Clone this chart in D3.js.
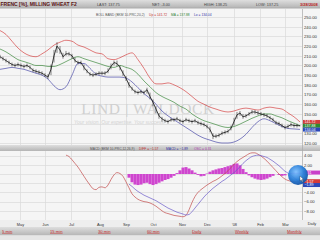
<!DOCTYPE html>
<html><head><meta charset="utf-8">
<script src="https://cdn.jsdelivr.net/npm/d3@7"></script>
<style>html,body{margin:0;padding:0;background:#fff;overflow:hidden}svg{display:block;font-family:"Liberation Sans",Arial,sans-serif}</style>
</head><body><svg id="c" width="320" height="240"></svg>
<script>
// ---- data (x index: one step per price bar) ----
const monthLabels = ["May","Jun","Jul","Aug","Sep","Oct","Nov","Dec","'08","Feb","Mar"];
const monthIdx = [6.67,15,23.67,33.33,42,51,60.67,69,78,86.67,95];
const priceTicks = [120,130,140,150,160,170,180,190,200,210,220,230,240,250];
const macdTicks = [-8,-6,-4,-2,0,2,4];
const closes = [209,207,205,203,201,200,201,200,199,200,
 198,195,194,193,192,190,188,196,210,220,
 216,209,212,212,210,205,203,203,198,194,
 191,190,191,192,192,192,194,199,203,202,
 198,192,187,180,176,173,172,173,172,175,
 168,162,155,148,145,143,142,144,144,145,
 143,142,144,143,142,143,141,140,139,137,
 134,127,127,128,130,131,132,135,142,149,
 151,147,148,150,152,152,151,150,149,148,
 146,144,141,140,138,136,137,139,138,138,
 137.75];
const highs = [211,209,207,205,203,202,203,202,201,202,
 200,197,196,195,194,192,191,201,216,224,
 220,213,215,214,212,208,205,205,201,196,
 193,192,193,194,194,194,197,202,205,205,
 200,195,189,183,178,175,174,175,174,177,
 172,165,158,151,147,145,144,146,146,147,
 145,144,146,145,144,145,143,142,141,139,
 137,130,129,130,132,133,134,138,146,152,
 153,150,150,152,154,154,153,152,151,150,
 148,146,143,142,140,138,139,141,140,140,
 138.25];
const lows = [207,205,203,201,199,198,199,198,197,198,
 196,193,192,191,190,188,186,190,203,213,
 212,207,210,210,207,203,201,201,195,192,
 189,188,189,190,190,190,192,196,200,199,
 195,189,184,177,174,171,170,171,170,171,
 165,158,151,145,142,141,140,142,142,143,
 141,140,142,141,140,141,139,138,137,135,
 131,124,125,126,128,129,130,133,138,145,
 148,145,146,148,150,150,149,148,147,146,
 144,142,139,138,136,134,135,137,136,136,
 137.25];
// Bollinger bands, one value every 2 bars
const bandUpper = [236,232,225,218,213,210,209,212,216,221,
 224,226,225,221,219,216,213,212,207,206,
 208,211,213,206,197,187,181,181,182,180,
 177,173,168,163,160,157,155,153,152,153,
 155,156,155,154,156,157,156,155,151,147,
 141.72];
const bandMid = [217,214,210,206,204,202,200,200,199,199,
 201,204,207,209,207,205,203,201,199,198,
 200,198,196,191,184,178,172,168,165,162,
 158,155,150,146,143,141,139,137,136,137,
 139.5,142.5,145.5,148,150,150,148,146,143,140.5,
 137.88];
const bandLower = [196,197,198,197,196,194,192,190,186,179,
 175,178,190,202,202,197,191,189,188,188,
 188,187,183,177,171,166,160,153,148,144,
 140,136,132,128,125,123,121,120,120,121,
 124,129,136,142,145,143,140,137,135,134.5,
 134.04];
// MACD panel
const macdStart = 22;
const macdLine = [4.1,3.8,3.1,2.3,1.5,0.5,-0.5,-1.5,
 -2.4,-3.2,-3.4,-2.9,-2.8,-3.0,-2.4,-1.2,-0.2,0.3,
 0.1,-0.5,-1.7,-3.0,-4.3,-5.0,-5.5,-5.8,-6.0,-6.1,
 -6.3,-6.6,-7.0,-7.5,-8.0,-8.4,-8.6,-8.8,-9.0,-9.1,
 -9.2,-9.3,-9.0,-7.8,-6.2,-4.9,-4.0,-3.4,-2.9,-2.4,
 -2.0,-1.6,-1.3,-0.9,-0.4,0.1,0.7,1.4,2.1,2.7,
 3.2,3.6,4.0,4.4,4.6,4.6,4.3,3.9,3.4,2.8,
 2.1,1.4,0.7,0.0,-0.6,-1.1,-1.4,-1.6,-1.7,-1.6,
 -1.57];
const signalStart = 43;
const signalLine = [-2.2,-2.7,-3.3,-3.8,-4.2,-4.6,-4.9,-5.2,-5.5,-5.8,
 -6.2,-6.6,-7.0,-7.4,-7.7,-8.0,-8.3,-8.5,-8.7,-8.9,
 -8.8,-8.2,-7.4,-6.6,-5.8,-5.0,-4.3,-3.7,-3.1,-2.6,
 -2.1,-1.6,-1.2,-0.7,-0.2,0.3,
 0.9,1.6,2.3,2.9,3.4,3.8,4.0,4.1,4.0,3.8,
 3.6,3.2,2.8,2.3,1.8,1.2,0.6,0.2,-0.3,-0.8,
 -1.3,-1.89];
const histStart = 43;
const histogram = [-0.8,-1.8,-2.3,-2.4,-2.3,-2.0,-1.9,-2.2,-2.4,-2.2,
 -1.9,-1.6,-1.3,-1.1,-0.8,-0.4,0.2,0.8,1.4,1.5,
 1.2,0.8,0.3,-0.2,-0.5,-0.4,0.1,0.5,0.8,1.0,
 1.2,1.3,1.5,1.7,1.9,2.2,2.3,1.9,1.1,0.4,
 -0.3,-0.7,-1.0,-1.2,-1.3,-1.2,-1.0,-0.7,-0.4,0.0,
 -0.2,-0.4,-0.3,0.0,0.2,0.3,0.3,0.31];
const periodLinks = ["5 min","15 min","30 min","60 min","Daily","Weekly","Monthly"];

// ---- layout ----
const svg = d3.select("#c");
const W = 320, plotR = 302;
const x = d3.scaleLinear().domain([0, 100.67]).range([0, plotR]);
const yP = d3.scaleLinear().domain([120, 250]).range([143, 17]);
const yM = d3.scaleLinear().domain([-10, 5]).range([220, 151]);

const defs = svg.append("defs");
defs.append("clipPath").attr("id","cp").append("rect").attr("x",0).attr("y",9).attr("width",plotR).attr("height",136);
defs.append("clipPath").attr("id","cm").append("rect").attr("x",0).attr("y",151).attr("width",plotR).attr("height",69);
const g1 = defs.append("linearGradient").attr("id","bar").attr("x1",0).attr("y1",0).attr("x2",0).attr("y2",1);
g1.append("stop").attr("offset",0).attr("stop-color","#dedede");
g1.append("stop").attr("offset",1).attr("stop-color","#b4b4b4");
const g2 = defs.append("radialGradient").attr("id","ball").attr("cx","40%").attr("cy","35%").attr("r","65%");
g2.append("stop").attr("offset",0).attr("stop-color","#7fc0ff");
g2.append("stop").attr("offset",0.6).attr("stop-color","#2a7fd8");
g2.append("stop").attr("offset",1).attr("stop-color","#1456a8");

// backgrounds
svg.append("rect").attr("width",W).attr("height",240).attr("fill","#f5f5f5");
svg.append("rect").attr("x",0).attr("y",0).attr("width",W).attr("height",8).attr("fill","url(#bar)");
svg.append("line").attr("x1",0).attr("x2",W).attr("y1",8.2).attr("y2",8.2).attr("stroke","#9c9c9c").attr("stroke-width",0.6);
svg.append("rect").attr("x",0).attr("y",145).attr("width",W).attr("height",6).attr("fill","url(#bar)");
svg.append("rect").attr("x",0).attr("y",220).attr("width",W).attr("height",7).attr("fill","#eeeeee");
svg.append("rect").attr("x",0).attr("y",227).attr("width",W).attr("height",8.5).attr("fill","url(#bar)");
svg.append("rect").attr("x",0).attr("y",235.5).attr("width",W).attr("height",4.5).attr("fill","#e6e6e6");

// grids
function grid(yScale, ticks, top, bottom){
  const g = svg.append("g");
  g.selectAll("line.h").data(ticks).join("line")
    .attr("x1",0).attr("x2",plotR).attr("y1",d=>Math.round(yScale(d))+0.5).attr("y2",d=>Math.round(yScale(d))+0.5)
    .attr("stroke","#dadada").attr("stroke-width",0.7);
  g.selectAll("line.v").data(monthIdx).join("line")
    .attr("y1",top).attr("y2",bottom).attr("x1",d=>Math.round(x(d))+0.5).attr("x2",d=>Math.round(x(d))+0.5)
    .attr("stroke","#dadada").attr("stroke-width",0.7);
}
grid(yP, priceTicks, 9, 145);
grid(yM, macdTicks, 151, 220);
svg.append("line").attr("x1",plotR+0.5).attr("x2",plotR+0.5).attr("y1",9).attr("y2",220).attr("stroke","#a8a8a8").attr("stroke-width",0.7);

// watermark
svg.append("text").attr("x",148).attr("y",113.5).attr("text-anchor","middle")
  .attr("font-family","'Liberation Serif',serif").attr("font-size",15.5).attr("letter-spacing",0.6)
  .attr("fill","#d0d0d0").text("LIND | WALDOCK");
svg.append("text").attr("x",74).attr("y",124).attr("font-size",5).attr("font-style","italic")
  .attr("fill","#d2d2d2").text("Your vision. Our expertise. Your success.");

// price panel
const pp = svg.append("g").attr("clip-path","url(#cp)");
const bandLine = arr => d3.line().x((d,i)=>x(i*2)).y(d=>yP(d)).curve(d3.curveMonotoneX)(arr);
pp.append("path").attr("d",bandLine(bandUpper)).attr("fill","none").attr("stroke","#d64545").attr("stroke-width",0.7);
pp.append("path").attr("d",bandLine(bandMid)).attr("fill","none").attr("stroke","#3d8a3d").attr("stroke-width",0.7);
pp.append("path").attr("d",bandLine(bandLower)).attr("fill","none").attr("stroke","#4a4aa8").attr("stroke-width",0.7);
pp.append("g").selectAll("line").data(closes).join("line")
  .attr("x1",(d,i)=>x(i)).attr("x2",(d,i)=>x(i))
  .attr("y1",(d,i)=>yP(highs[i])).attr("y2",(d,i)=>yP(lows[i]))
  .attr("stroke","#222").attr("stroke-width",0.55);
pp.append("path").attr("d",d3.line().x((d,i)=>x(i)).y(d=>yP(d))(closes))
  .attr("fill","none").attr("stroke","#111").attr("stroke-width",0.8);

// MACD panel
const mp = svg.append("g").attr("clip-path","url(#cm)");
mp.append("g").selectAll("rect").data(histogram).join("rect")
  .attr("x",(d,i)=>x(histStart+i)-1.5).attr("width",3.05)
  .attr("y",d=>Math.min(yM(d),yM(0))).attr("height",d=>Math.abs(yM(d)-yM(0)))
  .attr("fill","#cf46cf");
mp.append("path").attr("d",d3.line().x((d,i)=>x(macdStart+i)).y(d=>yM(d)).curve(d3.curveMonotoneX)(macdLine))
  .attr("fill","none").attr("stroke","#c24a4a").attr("stroke-width",0.7);
mp.append("path").attr("d",d3.line().x((d,i)=>x(signalStart+i)).y(d=>yM(d)).curve(d3.curveMonotoneX)(signalLine))
  .attr("fill","none").attr("stroke","#6a5ac8").attr("stroke-width",0.7);

// value tags (computed first so covered axis labels can be left out, as in the reference)
const fmt = d3.format(".2f");
function tagPositions(list, yScale){
  let last = -1e9;
  return list.map(t=>{ const yy = Math.max(yScale(t.v), last + 3.8); last = yy; return Object.assign({y:yy}, t); });
}
const pTags = tagPositions([{v:bandUpper[bandUpper.length-1],c:"#d43a3a"},{v:bandMid[bandMid.length-1],c:"#2f8a2f"},{v:bandLower[bandLower.length-1],c:"#2c48b8"}], yP);
const mTags = tagPositions([{v:histogram[histogram.length-1],c:"#c93fc9"},{v:macdLine[macdLine.length-1],c:"#d43a3a"},{v:signalLine[signalLine.length-1],c:"#2c48b8"}], yM);
const free = (tagsL, yScale) => v => tagsL.every(t=>Math.abs(yScale(v)-t.y) > 3.6);

// right axes
const axP = svg.append("g").attr("transform",`translate(${plotR},0)`)
  .call(d3.axisRight(yP).tickValues(priceTicks.filter(free(pTags,yP))).tickFormat(fmt).tickSize(0).tickPadding(2));
const axM = svg.append("g").attr("transform",`translate(${plotR},0)`)
  .call(d3.axisRight(yM).tickValues(macdTicks.filter(free(mTags,yM))).tickFormat(fmt).tickSize(0).tickPadding(2));
[axP, axM].forEach(a=>{
  a.select(".domain").remove();
  a.selectAll("text").attr("font-size",4.2).attr("fill","#333").attr("font-family","'Liberation Sans',Arial,sans-serif");
});

function drawTags(list){
  list.forEach(t=>{
    svg.append("rect").attr("x",plotR+1).attr("y",t.y-2).attr("width",17).attr("height",4).attr("fill",t.c);
    svg.append("text").attr("x",plotR+2.5).attr("y",t.y+1.4).attr("font-size",3.6).attr("fill","#fff").text(fmt(t.v));
  });
}
drawTags(pTags);
drawTags(mTags);

// cursor ball
svg.append("circle").attr("cx",298).attr("cy",175).attr("r",10).attr("fill","url(#ball)").attr("opacity",0.95);
svg.append("path").attr("d","M300,176 l0,5 l1.2,-1.2 l1,2 l0.8,-0.4 l-1,-2 l1.6,0 z").attr("fill","#fff").attr("stroke","#222").attr("stroke-width",0.3);

// x axis labels
const axX = svg.append("g").attr("transform","translate(0,221)")
  .call(d3.axisBottom(x).tickValues(monthIdx).tickFormat((d,i)=>monthLabels[i]).tickSize(0).tickPadding(2.5));
axX.select(".domain").remove();
axX.selectAll("text").attr("font-size",3.9).attr("fill","#333");
svg.append("text").attr("x",312).attr("y",225).attr("text-anchor","middle").attr("font-size",3.9).attr("fill","#333").text("Daily");

// header
const hdr = (tx, xx, yy, col, size, bold) => svg.append("text").attr("x",xx).attr("y",yy)
  .attr("font-size",size).attr("fill",col).attr("font-weight",bold?"bold":"normal").text(tx);
hdr("FRENC [%], MILLING WHEAT F2", 0.5, 5.8, "#5a1414", 5, true);
hdr("LAST: " + fmt(closes[closes.length-1]), 97, 5.6, "#444", 3.8);
hdr("NET: -3.00", 152, 5.6, "#444", 3.8);
hdr("HIGH: " + fmt(highs[highs.length-1]), 204, 5.6, "#444", 3.8);
hdr("LOW: " + fmt(lows[lows.length-1]), 256, 5.6, "#444", 3.8);
hdr("3/28/2008", 300, 5.8, "#b82020", 4, true);
hdr("BOLL BAND (BKM 10-PRC,20,2)", 96, 15.5, "#555", 3.3);
hdr("Up = " + fmt(bandUpper[bandUpper.length-1]), 149, 15.5, "#c03030", 3.3);
hdr("MA = " + fmt(bandMid[bandMid.length-1]), 171, 15.5, "#2f7f2f", 3.3);
hdr("Lo = " + fmt(bandLower[bandLower.length-1]), 194, 15.5, "#3535a5", 3.3);
// MACD legend in separator bar
hdr("MACD (BKM 10-PRC,12,26,9)", 90, 149.6, "#555", 3.3);
hdr("DIFF = " + fmt(macdLine[macdLine.length-1]), 139, 149.6, "#c03030", 3.3);
hdr("MACD = " + fmt(signalLine[signalLine.length-1]), 166, 149.6, "#3535a5", 3.3);
hdr("OSC = " + fmt(histogram[histogram.length-1]), 194, 149.6, "#b03ab0", 3.3);

// bottom links
const linkX = [2, 50, 98, 147, 192, 235, 287];
svg.append("g").selectAll("text").data(periodLinks).join("text")
  .attr("x",(d,i)=>linkX[i]).attr("y",232.5).attr("font-size",4.2).attr("fill","#c83030")
  .attr("text-decoration","underline").text(d=>d);
</script></body></html>
